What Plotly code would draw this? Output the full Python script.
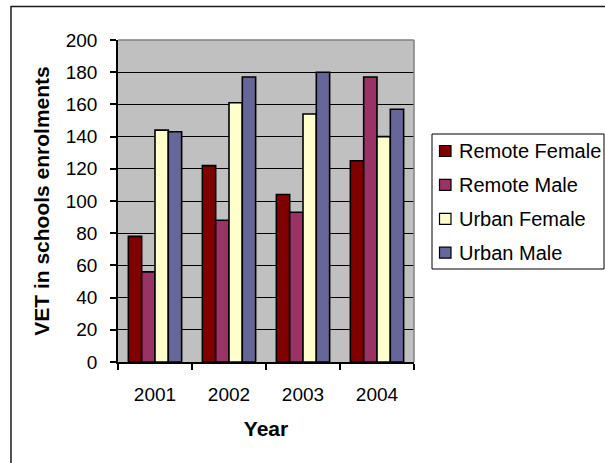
import plotly.graph_objects as go

# Enrolment data by year and group
years = ["2001", "2002", "2003", "2004"]
series_names = ["Remote Female", "Remote Male", "Urban Female", "Urban Male"]
remote_female = [78, 122, 104, 125]
remote_male = [56, 88, 93, 177]
urban_female = [144, 161, 154, 140]
urban_male = [143, 177, 180, 157]
y_ticks = [0, 20, 40, 60, 80, 100, 120, 140, 160, 180, 200]

colors = ["#800000", "#993366", "#FFFFCC", "#666699"]
values = [remote_female, remote_male, urban_female, urban_male]

W, H = 605, 463
L, R, T, B = 118, 414, 40, 362   # plot area edges in pixels
FONT = "Liberation Sans, Arial, sans-serif"


def px(x):
    return (x - L) / (R - L)


def py(y):
    return (B - y) / (B - T)


fig = go.Figure()
for name, vals, col in zip(series_names, values, colors):
    fig.add_trace(go.Bar(
        x=years, y=vals, name=name,
        marker=dict(color=col, line=dict(color="black", width=1.6)),
        showlegend=False,
    ))

shapes = [
    # outer chart frame (runs off the right and bottom)
    dict(type="rect", xref="paper", yref="paper",
         x0=px(11), x1=px(640), y0=py(500), y1=py(6.5),
         line=dict(color="#1a1a1a", width=1.5), layer="below"),
    # grey plot-area frame (top and right edges)
    dict(type="line", xref="paper", yref="paper",
         x0=0, x1=1, y0=1, y1=1, line=dict(color="#808080", width=1.5)),
    dict(type="line", xref="paper", yref="paper",
         x0=1, x1=1, y0=0, y1=1, line=dict(color="#808080", width=1.5)),
    # legend box
    dict(type="rect", xref="paper", yref="paper",
         x0=px(432), x1=px(604), y0=py(269), y1=py(134),
         line=dict(color="black", width=1), fillcolor="white"),
]
annotations = []
for i, (name, col) in enumerate(zip(series_names, colors)):
    cy = 151 + 33.9 * i
    shapes.append(dict(type="rect", xref="paper", yref="paper",
                       x0=px(439.5), x1=px(451), y0=py(cy + 5.5), y1=py(cy - 5.5),
                       fillcolor=col, line=dict(color="black", width=1.2)))
    annotations.append(dict(xref="paper", yref="paper", x=px(457), y=py(cy),
                            xanchor="left", yanchor="middle", showarrow=False,
                            text=name, font=dict(family=FONT, size=20, color="black")))

fig.update_layout(
    width=W, height=H,
    margin=dict(l=L, r=W - R, t=T, b=H - B, pad=0),
    paper_bgcolor="white",
    plot_bgcolor="#C0C0C0",
    barmode="group", bargap=0.28, bargroupgap=0,
    font=dict(family=FONT, color="black"),
    shapes=shapes, annotations=annotations,
    showlegend=False,
)
fig.update_xaxes(
    type="category",
    showline=True, linecolor="black", linewidth=1.5,
    ticks="outside", tickson="boundaries", ticklen=6, tickcolor="black", tickwidth=1.5,
    tickfont=dict(size=19), ticklabelstandoff=14,
    showgrid=False, automargin=False,
    title=dict(text="<b>Year</b>", font=dict(size=21), standoff=18),
)
fig.update_yaxes(
    range=[0, 200], tickvals=y_ticks,
    showline=True, linecolor="black", linewidth=1.5,
    ticks="outside", ticklen=6, tickcolor="black", tickwidth=1.5,
    tickfont=dict(size=19), ticklabelstandoff=9,
    showgrid=True, gridcolor="black", gridwidth=1,
    zeroline=False, automargin=False,
    title=dict(text="<b>VET in schools enrolments</b>", font=dict(size=21), standoff=10),
)

fig.write_html("out.html")
